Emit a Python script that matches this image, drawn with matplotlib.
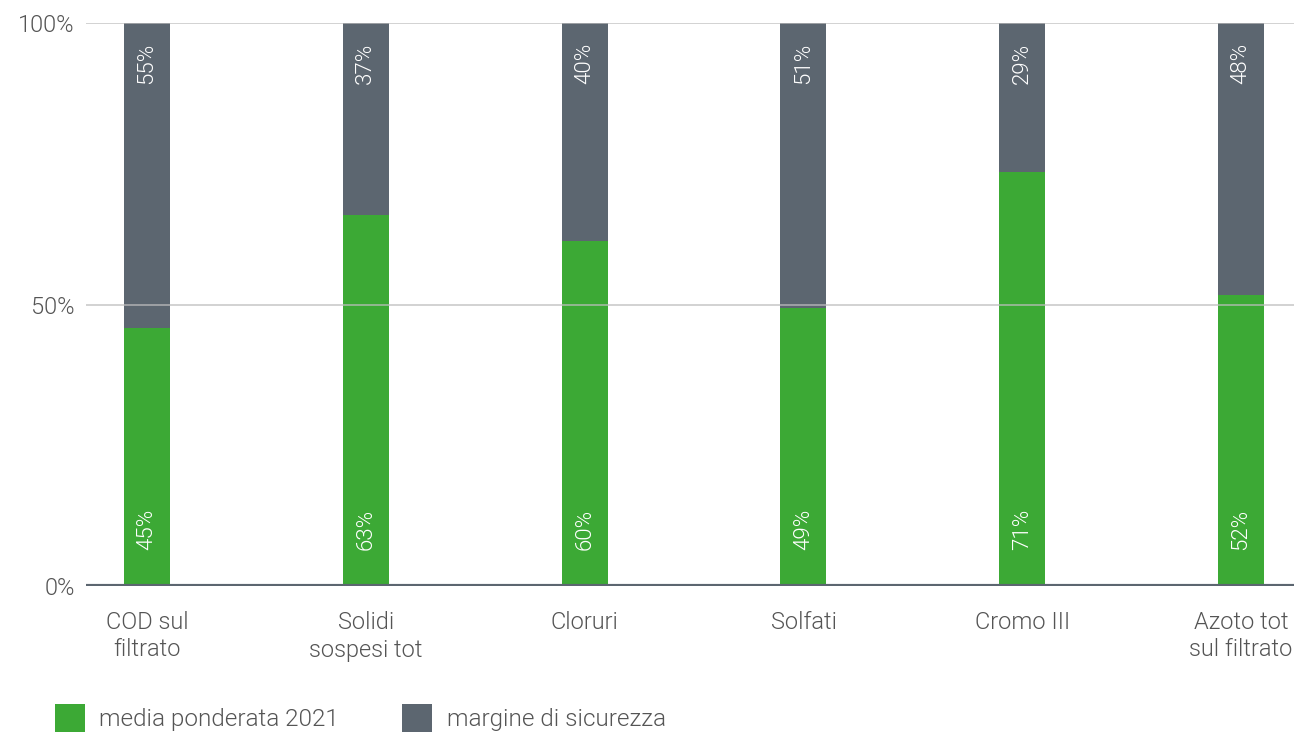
import matplotlib as mpl
mpl.use('Agg')
import matplotlib.pyplot as plt
import numpy as np

categories = ['COD sul\nfiltrato', 'Solidi\nsospesi tot', 'Cloruri', 'Solfati', 'Cromo III', 'Azoto tot\nsul filtrato']
media = [45.9, 65.9, 61.4, 49.5, 73.5, 51.7]          # bar heights as drawn
margine = [100 - v for v in media]
media_labels = ['45%', '63%', '60%', '49%', '71%', '52%']
margine_labels = ['55%', '37%', '40%', '51%', '29%', '48%']
series = ['media ponderata 2021', 'margine di sicurezza']

green = '#3ca935'
grey = '#5c6670'
txt = '#555555'

plt.rcParams['font.family'] = ['Roboto', 'DejaVu Sans']
plt.rcParams['font.weight'] = 300

fig = plt.figure(figsize=(12.94, 7.34), dpi=100)
ax = fig.add_axes([86 / 1294, 1 - 586 / 734, 1 - 86 / 1294, (586 - 23.4) / 734])

x = np.arange(len(categories))
w = 0.21
b1 = ax.bar(x, media, w, color=green, label=series[0], zorder=2)
b2 = ax.bar(x, margine, w, bottom=media, color=grey, label=series[1], zorder=2)

# grid lines over the bars
for yv in [50, 100]:
  ax.axhline(yv, color='#bdbdbd', lw=1.2, alpha=0.8, zorder=3)
ax.axhline(0, color=grey, lw=3, zorder=4)

for xi, lab in zip(x, media_labels):
  ax.annotate(lab, (xi, 0), xytext=(0, 26), textcoords='offset points',
              rotation=90, ha='center', va='bottom', color='white', fontsize=16, zorder=5)
for xi, lab in zip(x, margine_labels):
  ax.annotate(lab, (xi, 100), xytext=(0, -14), textcoords='offset points',
              rotation=90, ha='center', va='top', color='white', fontsize=16, zorder=5)

ax.set_xlim(-0.279, 5.242)
ax.set_ylim(0, 100)
ax.set_yticks([0, 50, 100])
ax.set_yticklabels(['0%', '50%', '100%'])
ax.set_xticks(x)
ax.set_xticklabels(categories, linespacing=1.25)
ax.tick_params(axis='both', length=0, labelsize=17, labelcolor=txt)
ax.tick_params(axis='y', pad=8)
ax.tick_params(axis='x', pad=18)
for s in ax.spines.values():
  s.set_visible(False)

leg = fig.legend(handles=[b1, b2], loc='center left', bbox_to_anchor=(55 / 1294, 1 - 718 / 734),
                 ncol=2, frameon=False, fontsize=17.5, handlelength=1.23, handleheight=1.4,
                 handletextpad=0.6, columnspacing=2.6, borderpad=0, borderaxespad=0, labelcolor=txt)

plt.savefig('out.png', dpi=100)
